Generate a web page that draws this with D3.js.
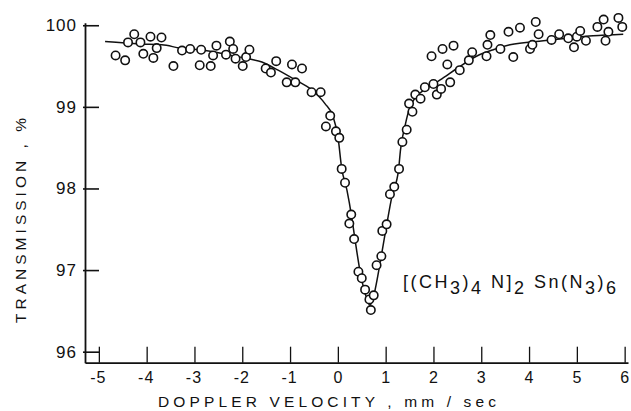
<!DOCTYPE html>
<html>
<head>
<meta charset="utf-8">
<script src="https://cdn.jsdelivr.net/npm/d3@7"></script>
<style>
  html, body { margin: 0; padding: 0; background: #fff; }
  svg { display: block; }
  text { font-family: "Liberation Sans", Arial, sans-serif; fill: #111; }
</style>
</head>
<body>
<svg id="chart" width="631" height="411"></svg>
<script>
// ---- data ----
const velocity = [-4.65,-4.45,-4.39,-4.26,-4.13,-4.07,-3.92,-3.86,-3.79,-3.69,-3.44,-3.26,-3.09,-2.89,-2.86,-2.66,-2.61,-2.54,-2.34,-2.26,-2.19,-2.14,-1.99,-1.92,-1.85,-1.51,-1.40,-1.29,-1.07,-0.96,-0.89,-0.75,-0.55,-0.36,-0.25,-0.16,-0.04,0.03,0.08,0.15,0.24,0.28,0.34,0.43,0.50,0.57,0.66,0.69,0.75,0.81,0.91,0.93,1.02,1.09,1.18,1.28,1.35,1.44,1.49,1.56,1.62,1.73,1.82,1.96,2.00,2.07,2.16,2.19,2.29,2.35,2.42,2.55,2.74,2.81,3.11,3.13,3.19,3.40,3.57,3.67,3.81,4.02,4.07,4.14,4.20,4.47,4.63,4.82,4.94,5.00,5.07,5.19,5.43,5.56,5.60,5.66,5.87,5.95];
const transmission = [99.63,99.57,99.79,99.89,99.79,99.65,99.86,99.60,99.72,99.85,99.50,99.69,99.71,99.51,99.70,99.50,99.63,99.75,99.64,99.80,99.71,99.59,99.50,99.61,99.70,99.47,99.42,99.56,99.30,99.52,99.30,99.47,99.18,99.18,98.76,98.89,98.70,98.62,98.24,98.07,97.57,97.68,97.38,96.98,96.90,96.76,96.64,96.51,96.69,97.06,97.17,97.48,97.56,97.93,98.02,98.24,98.57,98.72,99.04,98.94,99.15,99.10,99.24,99.62,99.28,99.15,99.22,99.71,99.52,99.30,99.75,99.45,99.57,99.67,99.62,99.76,99.88,99.71,99.92,99.61,99.97,99.71,99.76,100.04,99.89,99.82,99.89,99.84,99.73,99.86,99.93,99.81,99.98,100.07,99.81,99.92,100.09,99.98];

const fitVelocity = [-4.87,-4.14,-3.68,-3.30,-2.78,-2.30,-1.88,-1.59,-1.25,-0.89,-0.55,-0.27,-0.10,0.00,0.08,0.19,0.29,0.36,0.46,0.60,0.67,0.74,0.78,0.92,1.02,1.13,1.27,1.31,1.41,1.51,1.65,1.86,2.14,2.49,2.90,3.25,3.60,4.30,4.79,5.34,5.97];
const fitTransmission = [99.80,99.77,99.76,99.72,99.69,99.64,99.59,99.55,99.45,99.33,99.21,99.04,98.88,98.64,98.25,97.98,97.65,97.37,97.00,96.66,96.57,96.66,96.76,97.21,97.55,97.90,98.23,98.47,98.78,99.00,99.13,99.23,99.33,99.47,99.62,99.70,99.76,99.81,99.84,99.87,99.89];

const xTicks = [-5,-4,-3,-2,-1,0,1,2,3,4,5,6];
const xTickLabels = ["-5","-4","-3","-2","-1","0","1","2","3","4","5","6"];
const yTicks = [96,97,98,99,100];
const yTickLabels = ["96","97","98","99","100"];

const xDomain = [-5.29, 6.07];
const yDomain = [95.865, 100.03];

// ---- drawing ----
const svg = d3.select("#chart");
const x = d3.scaleLinear().domain(xDomain).range([85, 628]);
const y = d3.scaleLinear().domain(yDomain).range([362.7, 22.8]);

const ink = "#111";

// x axis
const xAxis = d3.axisBottom(x)
  .tickValues(xTicks)
  .tickFormat((d, i) => xTickLabels[i])
  .tickSizeInner(-16)
  .tickSizeOuter(0)
  .tickPadding(9);
const gx = svg.append("g").attr("transform", `translate(0,${y(yDomain[0])})`).call(xAxis);
gx.select(".domain").attr("stroke", ink).attr("stroke-width", 1.8);
gx.selectAll(".tick line").attr("stroke", ink).attr("stroke-width", 1.3);
gx.selectAll(".tick text").attr("font-size", 16).attr("letter-spacing", 1).attr("fill", ink)
  .attr("font-family", "Liberation Sans, Arial, sans-serif")
  .attr("dx", (d) => d < 0 ? -1 : 0);

// y axis
const yAxis = d3.axisLeft(y)
  .tickValues(yTicks)
  .tickFormat((d, i) => yTickLabels[i])
  .tickSizeInner(-14)
  .tickSizeOuter(0)
  .tickPadding(8);
const gy = svg.append("g").attr("transform", `translate(${x(xDomain[0])},0)`).call(yAxis);
gy.select(".domain").attr("stroke", ink).attr("stroke-width", 1.8);
gy.selectAll(".tick line").attr("stroke", ink).attr("stroke-width", 1.6).attr("x1", -2);
gy.selectAll(".tick text").attr("font-size", 17).attr("letter-spacing", 1).attr("fill", ink)
  .attr("font-family", "Liberation Sans, Arial, sans-serif");

// fitted curve
const fit = fitVelocity.map((v, i) => [v, fitTransmission[i]]);
svg.append("path")
  .datum(fit)
  .attr("fill", "none")
  .attr("stroke", ink)
  .attr("stroke-width", 1.5)
  .attr("d", d3.line().x(d => x(d[0])).y(d => y(d[1])).curve(d3.curveMonotoneX));

// data points
const pts = velocity.map((v, i) => [v, transmission[i]]);
svg.append("g").selectAll("circle")
  .data(pts)
  .join("circle")
  .attr("cx", d => x(d[0]))
  .attr("cy", d => y(d[1]))
  .attr("r", 4.2)
  .attr("fill", "#fff")
  .attr("stroke", ink)
  .attr("stroke-width", 1.6);

// axis titles
svg.append("text")
  .attr("x", 158).attr("y", 407)
  .attr("font-size", 15.5)
  .attr("textLength", 338).attr("lengthAdjust", "spacing")
  .text("DOPPLER VELOCITY , mm / sec");

svg.append("text")
  .attr("transform", "translate(26,323) rotate(-90)")
  .attr("font-size", 15.5)
  .attr("textLength", 205).attr("lengthAdjust", "spacing")
  .text("TRANSMISSION , %");

// compound label
const lab = svg.append("text")
  .attr("x", 403).attr("y", 288)
  .attr("font-size", 18)
  .attr("textLength", 213).attr("lengthAdjust", "spacing");
const parts = [["[(CH",0],["3",1],[")",0],["4",1],[" N]",0],["2",1],["  Sn(N",0],["3",1],[")",0],["6",1]];
let prevSub = 0;
parts.forEach(([t, s]) => {
  lab.append("tspan").attr("dy", (s - prevSub) * 6).text(t);
  prevSub = s;
});
</script>
</body>
</html>
